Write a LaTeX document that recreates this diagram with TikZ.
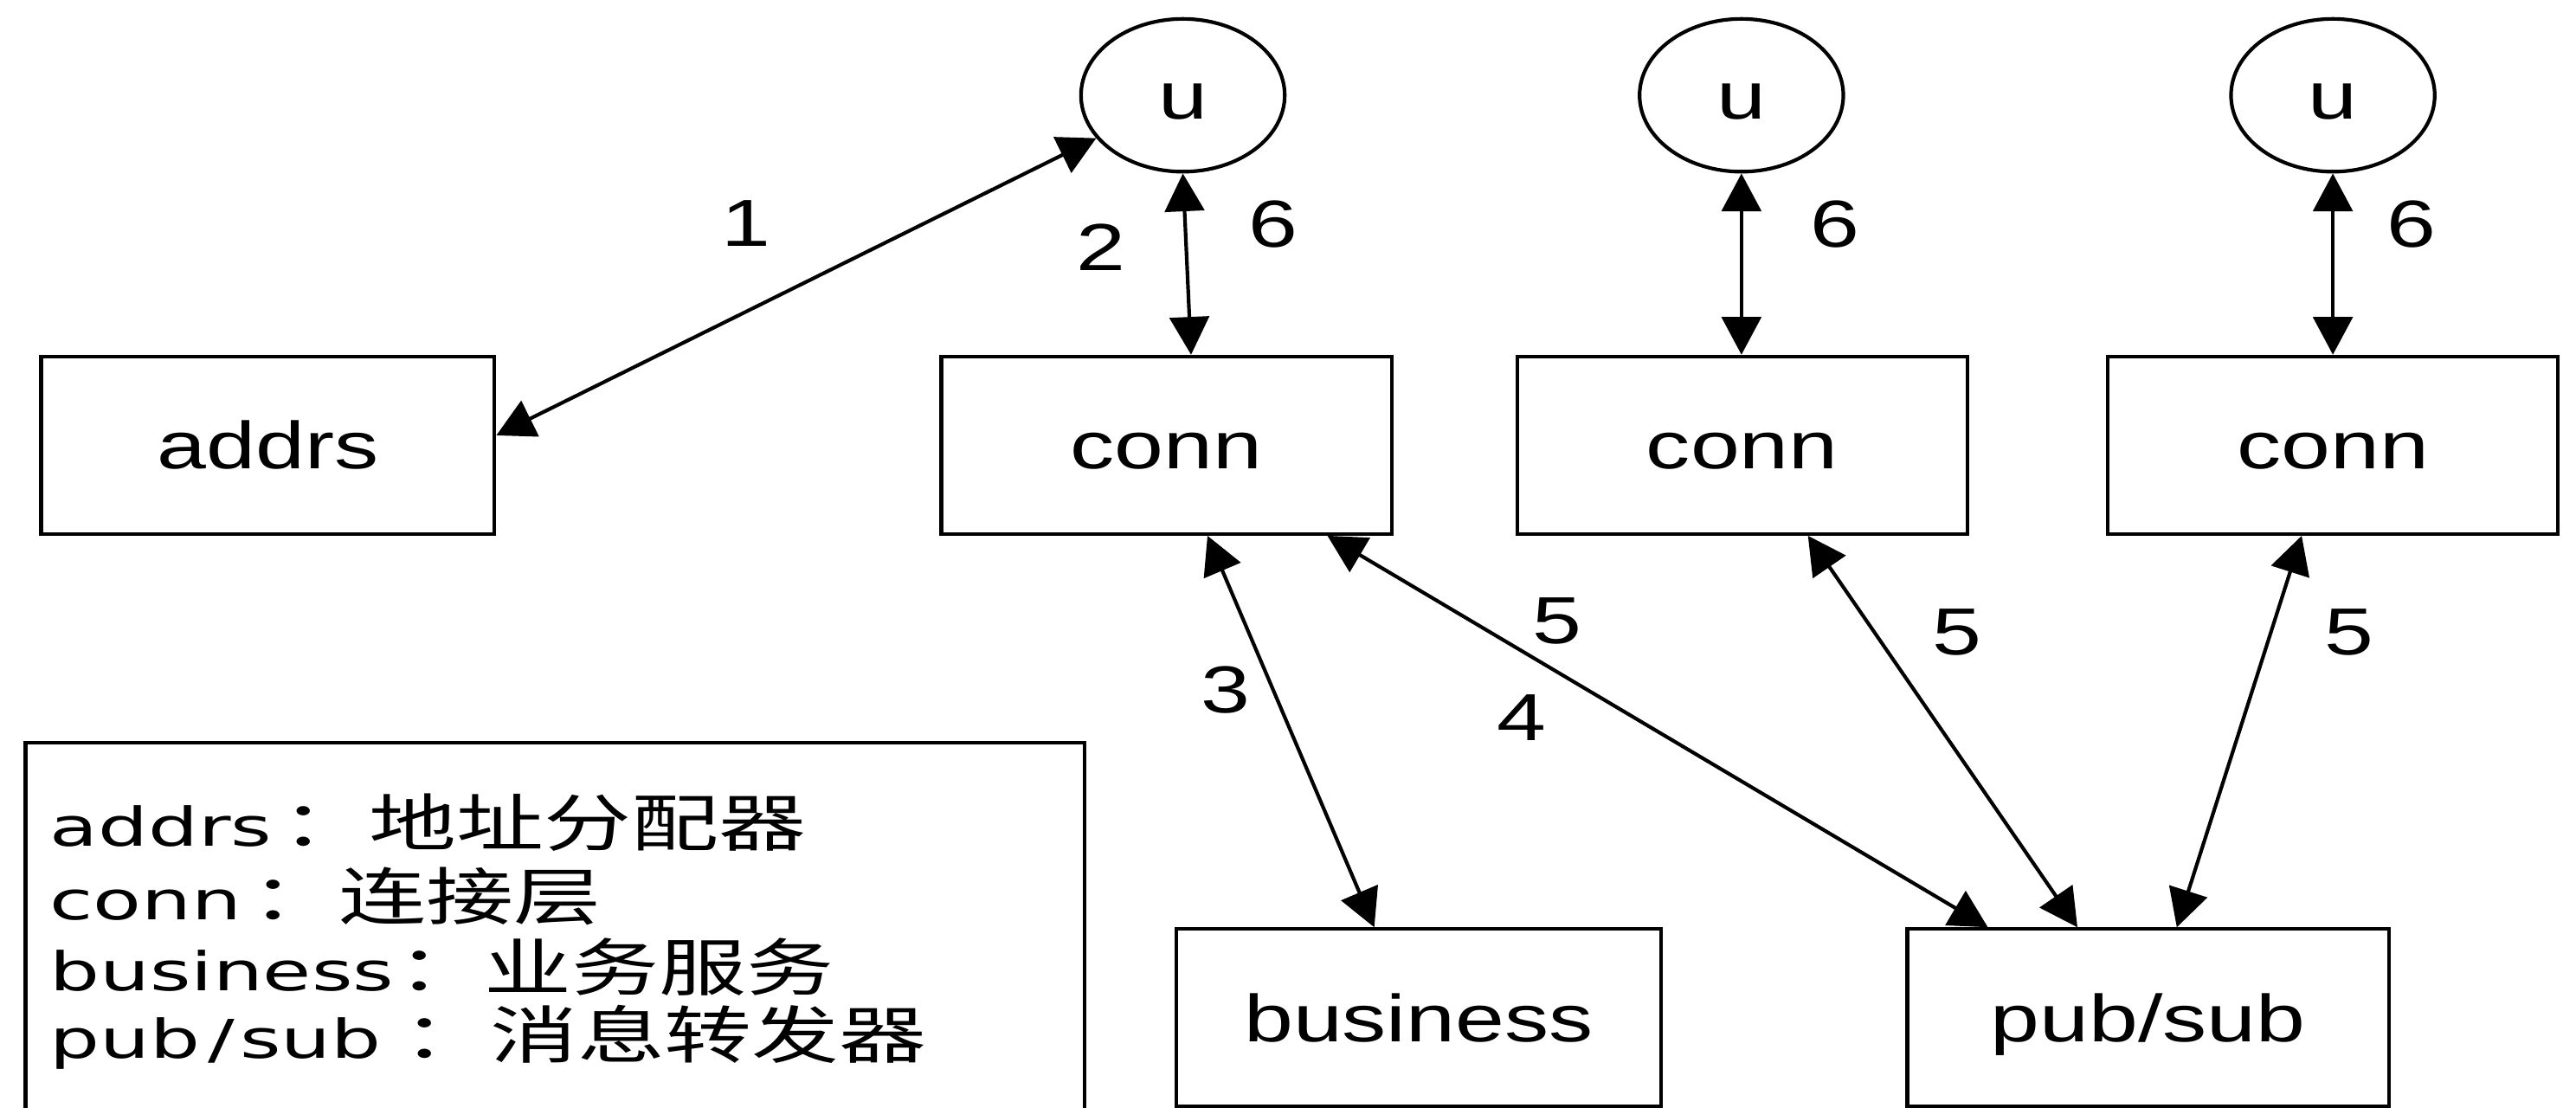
\documentclass[tikz,border=0pt]{standalone}
\usepackage{fontspec}
\setmainfont{Liberation Sans}[FakeStretch=1.33]
\newfontfamily\legfont{DejaVu Sans}[FakeStretch=1.48]
\newfontfamily\cjkfont{Noto Sans CJK SC}[FakeStretch=1.40]
\newcommand{\cj}{\cjkfont\fontsize{38}{43}\selectfont}
\usetikzlibrary{shapes.geometric,arrows.meta}
\begin{document}
\begin{tikzpicture}[x=1pt,y=-1pt,
  lw/.style={line width=2.2pt},
  boxnode/.style={draw, lw, rectangle, minimum width=274pt, minimum height=108pt, inner sep=0pt, text height=29pt, text depth=0pt, font=\fontsize{40.5}{48}\selectfont},
  unode/.style={draw, lw, ellipse, minimum width=124pt, minimum height=93pt, inner sep=0pt, text height=29pt, text depth=0pt, font=\fontsize{40.5}{48}\selectfont},
  link/.style={lw, {Triangle[length=23pt,width=24pt]}-{Triangle[length=23pt,width=24pt]}},
  num/.style={inner sep=0pt, text height=29pt, text depth=0pt, font=\fontsize{40.5}{48}\selectfont},
  legline/.style={anchor=base west, inner sep=0pt, font=\legfont\fontsize{32.5}{43}\selectfont}
]
\useasboundingbox (0,0) rectangle (1568,674.4);
\clip (0,0) rectangle (1568,674.4);

\node[boxnode, minimum width=276pt] (addrs) at (163,271) {addrs};
\node[boxnode] (conn1) at (710,271) {conn};
\node[boxnode] (conn2) at (1060.5,271) {conn};
\node[boxnode] (conn3) at (1420,271) {conn};
\node[boxnode, minimum width=295pt] (business) at (863.5,619.5) {business};
\node[boxnode, minimum width=293pt] (pubsub) at (1307.5,619.5) {pub/sub};

\node[unode] (u1) at (720,58) {u};
\node[unode] (u2) at (1060,58) {u};
\node[unode] (u3) at (1420,58) {u};

\draw[link] ([yshift=6pt]addrs.east) -- (u1);
\draw[link] (u1.south) -- ([xshift=15pt]conn1.north);
\draw[link] (u2.south) -- (conn2.north -| u2.south);
\draw[link] (u3.south) -- (conn3.north -| u3.south);
\draw[link] ([xshift=25pt]conn1.south) -- ([xshift=-27pt]business.north);
\draw[link] ([xshift=98pt]conn1.south) -- ([xshift=-97.5pt]pubsub.north);
\draw[link] ([xshift=40pt]conn2.south) -- ([xshift=-43pt]pubsub.north);
\draw[link] ([xshift=-19pt]conn3.south) -- ([xshift=17.5pt]pubsub.north);

\node[num] (l1) at (454,135.5) {1};
\node[num] (l2) at (670,150) {2};
\node[num] (l6a) at (775,136) {6};
\node[num] (l6b) at (1117,136) {6};
\node[num] (l6c) at (1468,136) {6};
\node[num] (l3) at (746,419.5) {3};
\node[num] (l4) at (926,436) {4};
\node[num] (l5a) at (948,377) {5};
\node[num] (l5b) at (1191,384) {5};
\node[num] (l5c) at (1430,384) {5};

\draw[lw] (15.5,452) rectangle (660,700);
\node[legline] (leg1) at (30,515) {addrs\hspace{6pt}{\cj ：地址分配器}};
\node[legline] (leg2) at (30,560) {conn\hspace{6pt}{\cj ：连接层}};
\node[legline] (leg3) at (30,603) {business\hspace{2pt}{\cj ：业务服务}};
\node[legline] (leg4) at (30,644) {pub\hspace{5pt}/\hspace{3pt}sub\hspace{13pt}{\cj ：消息转发器}};
\end{tikzpicture}
\end{document}
